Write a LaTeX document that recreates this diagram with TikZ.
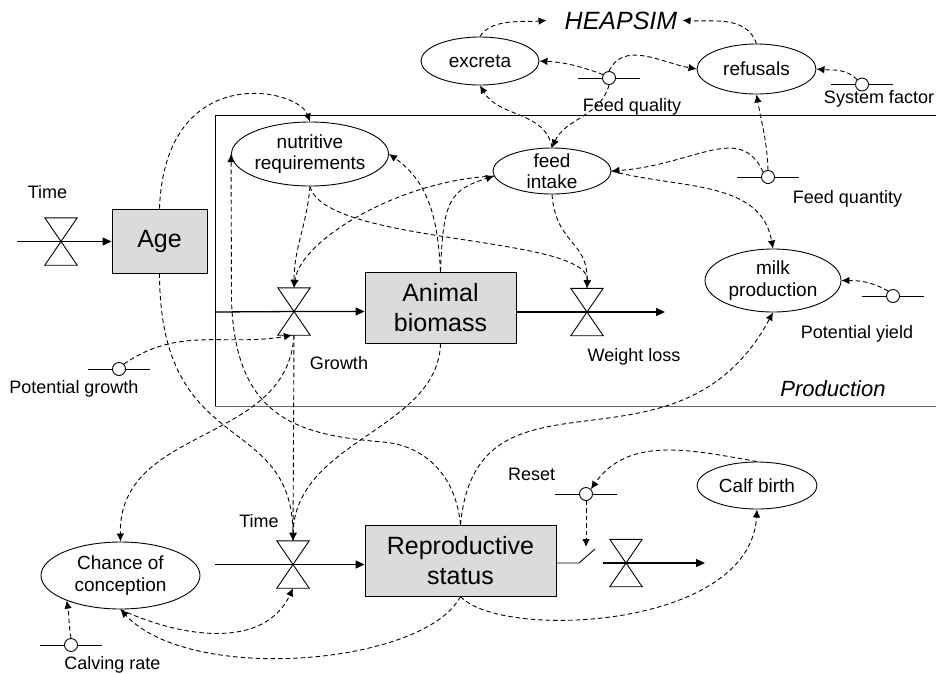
\documentclass[tikz,border=0pt]{standalone}
\usepackage{fontspec}
\setmainfont{Liberation Sans}
\usetikzlibrary{arrows.meta,shapes.geometric}

% hourglass-shaped flow regulator: an invisible box plus its two triangles
\newcommand{\valvenode}[2]{%
  \node[valvebox] (#1) at (#2) {};
  \draw[valveline] (#1.north west) -- (#1.north east) -- (#1.south west) -- (#1.south east) -- cycle;}
% external parameter: short bar with a small circle on it
\newcommand{\auxnode}[2]{%
  \draw[auxline] (#2) ++(-31,0) -- ++(62,0);
  \node[auxc] (#1) at (#2) {};}

\tikzset{
  info/.style={line width=0.9pt, dash pattern=on 4.5pt off 3pt, -{Latex[length=8pt,width=7.5pt]}},
  flow/.style={line width=1.3pt, -{Triangle[length=9pt,width=8pt]}},
  stockbox/.style={draw, line width=0.9pt, fill=black!14, font=\fontsize{25}{30}\selectfont, align=center, inner sep=0pt},
  ell/.style={ellipse, draw, line width=0.9pt, inner sep=0pt},
  elltext/.style={font=\fontsize{19}{21.5}\selectfont, align=center, inner sep=0pt},
  valvebox/.style={rectangle, minimum width=32pt, minimum height=47pt, inner sep=0pt},
  valveline/.style={line width=0.9pt, line join=miter},
  auxc/.style={circle, draw, fill=white, minimum size=13pt, inner sep=0pt, line width=0.9pt},
  auxline/.style={line width=0.9pt},
  lbl/.style={font=\fontsize{18}{21.6}\selectfont, anchor=base, inner sep=0pt},
  ital/.style={anchor=base, inner sep=0pt},
}

\begin{document}
\begin{tikzpicture}[x=1pt,y=1pt]
\useasboundingbox (0,0) rectangle (936,-673);

% production sub-model frame
\draw[line width=0.9pt] (936,-115) -- (215,-115) -- (215,-406.5);
\draw[line width=1pt, black!60] (215,-406.5) -- (936,-406.5);
\node[ital, font=\fontsize{22}{26}\selectfont\itshape] (prodlbl) at (833,-396.5) {Production};

% HEAPSIM
\node[ital, font=\fontsize{25}{30}\selectfont\itshape] (heapsim) at (621,-29) {HEAPSIM};
\coordinate (hw) at ([xshift=-18pt]heapsim.west);
\coordinate (he) at ([xshift=5pt]heapsim.east);

% auxiliary variables
\node[ell, minimum width=118pt, minimum height=48pt] (exc) at (480,-61) {};
\node[elltext] (exc-t) at (exc) {excreta};
\node[ell, minimum width=119pt, minimum height=50pt] (ref) at (756.5,-69) {};
\node[elltext] (ref-t) at (ref) {refusals};
\node[ell, minimum width=157pt, minimum height=64pt] (nr) at (310,-154) {};
\node[elltext] (nr-t) at (nr) {nutritive\\requirements};
\node[ell, minimum width=118pt, minimum height=46pt] (fi) at (552,-171) {};
\node[elltext] (fi-t) at (fi) {feed\\intake};
\node[ell, minimum width=136pt, minimum height=63pt] (mp) at (773,-280.5) {};
\node[elltext] (mp-t) at (mp) {milk\\production};
\node[ell, minimum width=159pt, minimum height=67pt] (cc) at (120.5,-575.5) {};
\node[elltext] (cc-t) at (cc) {Chance of\\conception};
\node[ell, minimum width=120pt, minimum height=47pt] (cb) at (757,-485.5) {};
\node[elltext] (cb-t) at (cb) {Calf birth};

% stocks
\node[stockbox, minimum width=95pt, minimum height=64pt] (age) at (159.5,-241) {Age};
\node[stockbox, minimum width=151pt, minimum height=71pt] (ab) at (440.5,-307.5) {Animal\\biomass};
\node[stockbox, minimum width=191pt, minimum height=71pt] (rs) at (460.5,-560.5) {Reproductive\\status};

% flows
\coordinate (src1) at (17,-241.5);
\coordinate (src2) at (215,-312);
\coordinate (sink1) at (665,-312);
\coordinate (src3) at (215,-564.5);
\coordinate (swa) at (579,-563);
\coordinate (swb) at (595,-549);
\coordinate (src4) at (603,-563);
\coordinate (sink2) at (705,-563);

\valvenode{t1}{61,-241.5}
\valvenode{g}{294,-311.5}
\valvenode{wl}{587,-312}
\valvenode{t2}{293,-564.5}
\valvenode{v3}{626,-563}

\draw[flow] (src1) -- (t1.center) -- (t1.center -| age.west);
\draw[flow] (src2) -- (g.center) -- (g.center -| ab.west);
\draw[flow] (wl.center -| ab.east) -- (wl.center) -- (sink1);
\draw[flow] (src3) -- (t2.center) -- (t2.center -| rs.west);
\draw[line width=0.9pt] (rs.east |- swa) -- (swa) -- (swb);
\draw[flow] (src4) -- (v3.center) -- (sink2);

% parameters
\auxnode{fq}{609,-78}
\auxnode{sf}{862,-84.5}
\auxnode{fqty}{768,-177}
\auxnode{py}{893,-296}
\auxnode{pg}{119,-369}
\auxnode{cr}{71,-645}
\auxnode{reset}{586,-494}

% labels
\node[lbl] (l-t1) at (47.5,-198) {Time};
\node[lbl] (l-t2) at (259,-527) {Time};
\node[lbl] (l-g) at (339,-369) {Growth};
\node[lbl] (l-wl) at (634,-361.5) {Weight loss};
\node[lbl] (l-fq) at (632,-111) {Feed quality};
\node[lbl] (l-sf) at (879,-103) {System factor};
\node[lbl] (l-fqty) at (847.5,-203) {Feed quantity};
\node[lbl] (l-py) at (857,-338) {Potential yield};
\node[lbl] (l-pg) at (74,-393) {Potential growth};
\node[lbl] (l-cr) at (112.5,-669) {Calving rate};
\node[lbl] (l-reset) at (531.7,-480) {Reset};

% information links
\draw[info] (exc.north) to[out=60,in=185,looseness=0.8] (hw);
\draw[info] (ref.north) to[out=110,in=-3] (he);
\draw[info] (fq.150) to[out=160,in=-3] (exc.east);
\draw[info] (fq.north) to[out=65,in=170] (ref.west);
\draw[info] (fq.south) to[out=-105,in=65] (fi.north);
\draw[info] (fi.north) to[out=100,in=-60] (exc.south);
\draw[info] (fqty.north) to[out=92,in=-80] (ref.south);
\draw[info] (fqty.135) .. controls (740,-122) and (695,-165) .. (fi.east);
\draw[info] (sf.135) to[out=135,in=-5] (ref.east);
\draw[info] (fi.east) to[out=-15,in=100] (mp.north);
\draw[info] (py.135) to[out=150,in=0] (mp.east);
\draw[info] (rs.north) .. controls (477,-350) and (677,-491) .. (mp.south);
\draw[info] (rs.south) .. controls (500,-640) and (750,-630) .. (cb.south);
\draw[info] (cb.north) to[out=170,in=55] (reset.45);
\draw[info] (reset.south) -- (reset.south |- 0,-547);
\draw[info] (rs.south) .. controls (425,-665) and (190,-685) .. (cc.south);
\draw[info] (cc.south) to[out=-25,in=-115] (t2.south);
\draw[info] (cr.north) to[out=100,in=-80] (cc.205);
\draw[info] (age.south) .. controls (160,-460) and (292,-410) .. (t2.north);
\draw[info] (ab.south) .. controls (438,-430) and (295,-440) .. (t2.north);
\draw[info] (g.south) -- (t2.north);
\draw[info] (g.south) .. controls (288,-445) and (118,-425) .. (cc.north);
\draw[info] (pg.45) to[out=35,in=-170] (g.-95);
\draw[info] (nr.south) to[out=-95,in=90] (g.north);
\draw[info] (nr.south) .. controls (325,-245) and (590,-235) .. (wl.north);
\draw[info] (fi.south) .. controls (556,-245) and (588,-240) .. (wl.north);
\draw[info] (fi.185) .. controls (400,-180) and (300,-240) .. (g.north);
\draw[info] (ab.north) to[out=93,in=-35] (nr.east);
\draw[info] (ab.north) .. controls (443,-200) and (450,-190) .. (fi.185);
\draw[info] (age.north) .. controls (165,-60) and (298,-88) .. (nr.north);
\draw[info] (rs.north) .. controls (455,-470) and (420,-445) .. (383,-442)
  .. controls (300,-435) and (235,-420) .. (231.5,-300) -- (nr.west);
\end{tikzpicture}
\end{document}
